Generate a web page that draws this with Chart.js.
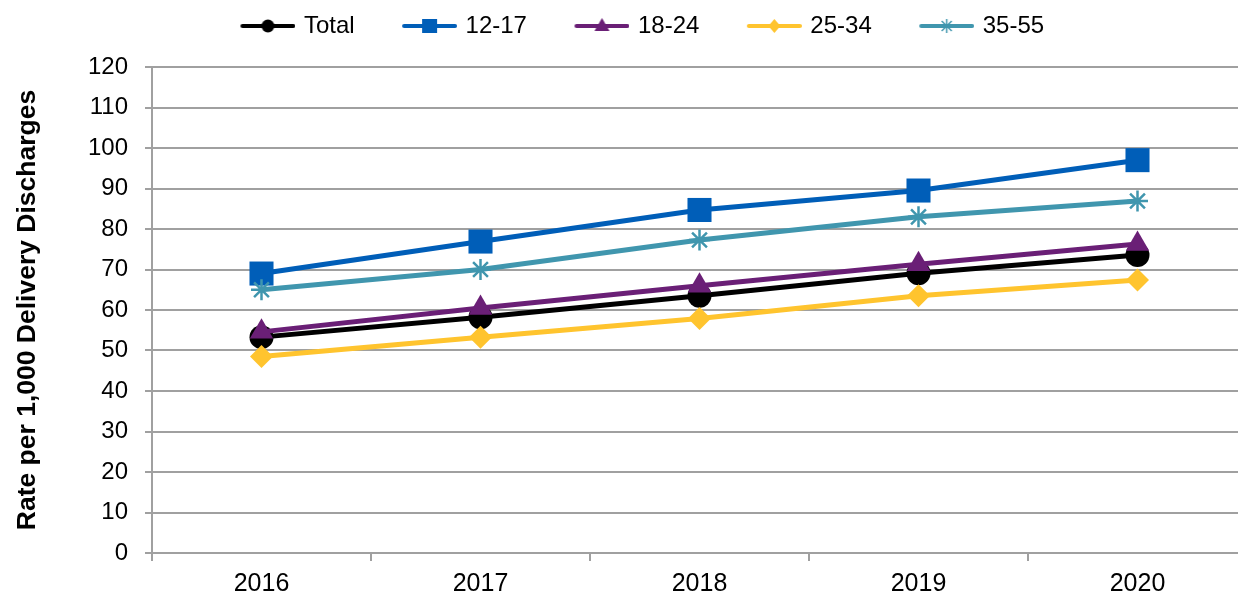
<!DOCTYPE html>
<html>
<head>
<meta charset="utf-8">
<script src="https://cdn.jsdelivr.net/npm/chart.js@4/dist/chart.umd.min.js"></script>
<style>
  html, body { margin: 0; background: #fff; overflow: hidden; }
  #wrap { width: 1264px; height: 595px; position: relative; }
</style>
</head>
<body>
<div id="wrap"><canvas id="myChart"></canvas></div>
<script>
const years = ["2016", "2017", "2018", "2019", "2020"];
const seriesNames = ["Total", "12-17", "18-24", "25-34", "35-55"];
const total = [53.3, 58.2, 63.5, 69.1, 73.6];
const age12to17 = [69.0, 76.9, 84.7, 89.5, 97.0];
const age18to24 = [54.6, 60.5, 66.0, 71.3, 76.3];
const age25to34 = [48.5, 53.3, 57.9, 63.5, 67.4];
const age35to55 = [65.0, 70.0, 77.3, 83.0, 86.9];
const yTicks = [0, 10, 20, 30, 40, 50, 60, 70, 80, 90, 100, 110, 120];

const colors = ["#000000", "#005EB8", "#6A1F76", "#FFC42E", "#4096AE"];
const shapes = ["circle", "rect", "triangle", "rectRot", "star"];
const radii = [12, 17, 13.5, 11.5, 10.5];
const allValues = [total, age12to17, age18to24, age25to34, age35to55];

// small line+marker pictures for the legend
function makeIcon(color, shape) {
  const c = document.createElement("canvas");
  c.width = 73;
  c.height = 24;
  const ctx = c.getContext("2d");
  ctx.strokeStyle = color;
  ctx.fillStyle = color;
  ctx.lineWidth = 4;
  ctx.lineCap = "round";
  ctx.beginPath();
  ctx.moveTo(20, 12);
  ctx.lineTo(71, 12);
  ctx.stroke();
  const x = 45.5, y = 12;
  ctx.beginPath();
  if (shape === "circle") {
    ctx.arc(x, y, 6.5, 0, Math.PI * 2);
    ctx.fill();
  } else if (shape === "rect") {
    ctx.fillRect(x - 7.5, y - 7, 15, 14);
  } else if (shape === "triangle") {
    ctx.moveTo(x, y - 8);
    ctx.lineTo(x + 7.5, y + 5);
    ctx.lineTo(x - 7.5, y + 5);
    ctx.closePath();
    ctx.fill();
  } else if (shape === "rectRot") {
    ctx.moveTo(x, y - 7);
    ctx.lineTo(x + 6, y);
    ctx.lineTo(x, y + 7);
    ctx.lineTo(x - 6, y);
    ctx.closePath();
    ctx.fill();
  } else {
    ctx.lineWidth = 1.5;
    ctx.lineCap = "butt";
    ctx.moveTo(x, y - 7); ctx.lineTo(x, y + 7);
    ctx.moveTo(x - 5, y - 5); ctx.lineTo(x + 5, y + 5);
    ctx.moveTo(x - 5, y + 5); ctx.lineTo(x + 5, y - 5);
    ctx.stroke();
  }
  return c;
}

const icons = colors.map((col, i) => makeIcon(col, shapes[i]));

const legendShift = {
  id: "legendShift",
  afterLayout(chart) {
    const lg = chart.legend;
    lg.left += 3;
    lg.right += 3;
    lg.top -= 19;
    lg.bottom -= 19;
  }
};

Chart.defaults.font.family = "'Liberation Sans', Arial, sans-serif";
Chart.defaults.color = "#000";

const datasets = seriesNames.map((name, i) => ({
  label: name,
  data: allValues[i],
  borderColor: colors[i],
  backgroundColor: colors[i],
  borderWidth: 5,
  pointStyle: shapes[i],
  pointRadius: radii[i],
  pointHoverRadius: radii[i],
  pointBorderWidth: shapes[i] === "star" ? 2.5 : 0,
  pointBorderColor: colors[i],
  pointBackgroundColor: colors[i],
  tension: 0,
  order: seriesNames.length - i
}));

new Chart("myChart", {
  type: "line",
  data: { labels: years, datasets: datasets },
  plugins: [legendShift],
  options: {
    responsive: true,
    maintainAspectRatio: false,
    animation: false,
    layout: { padding: 0 },
    plugins: {
      tooltip: { enabled: false },
      legend: {
        position: "top",
        labels: {
          usePointStyle: true,
          pointStyleWidth: 66,
          padding: 33,
          font: { size: 24 },
          color: "#000",
          generateLabels: chart => chart.data.datasets.map((ds, i) => ({
            text: ds.label,
            pointStyle: icons[i],
            datasetIndex: i,
            fillStyle: "transparent",
            strokeStyle: "transparent",
            lineWidth: 0,
            hidden: false,
            fontColor: "#000"
          }))
        }
      }
    },
    scales: {
      x: {
        offset: true,
        grid: {
          offset: true,
          drawOnChartArea: false,
          drawTicks: true,
          tickLength: 8,
          color: "#a0a0a0",
          lineWidth: 2
        },
        border: { color: "#a0a0a0", width: 2 },
        ticks: { font: { size: 25 }, padding: 8, maxRotation: 0 },
        afterFit: scale => {
          scale.height = 42;
          scale.paddingLeft = 0;
          scale.paddingRight = 0;
        }
      },
      y: {
        min: 0,
        max: 120,
        afterBuildTicks: scale => { scale.ticks = yTicks.map(v => ({ value: v })); },
        grid: {
          color: "#a0a0a0",
          lineWidth: 2,
          tickLength: 7
        },
        border: { color: "#a0a0a0", width: 2 },
        ticks: { font: { size: 24 }, padding: 17 },
        title: {
          display: true,
          text: "Rate per 1,000 Delivery Discharges",
          font: { size: 26.5, weight: "bold" },
          padding: { top: 12, bottom: 0 }
        },
        afterFit: scale => { scale.width = 152; }
      }
    }
  }
});
</script>
</body>
</html>
